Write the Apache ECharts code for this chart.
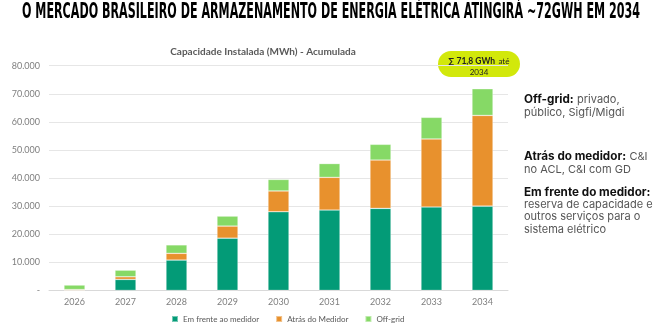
<!DOCTYPE html>
<html><head><meta charset="utf-8">
<script src="https://cdn.jsdelivr.net/npm/echarts@6/dist/echarts.min.js"></script>
<style>html,body{margin:0;padding:0;background:#fff}#c{width:659px;height:325px}</style>
</head><body><div id="c"></div>
<script>
const categories = ['2026','2027','2028','2029','2030','2031','2032','2033','2034'];
const emFrente = [0, 3900, 10800, 18600, 28000, 28600, 29200, 29700, 30000];
const atras = [300, 950, 2400, 4300, 7400, 11650, 17200, 24200, 32300];
const offGrid = [1600, 2350, 3000, 3550, 4100, 4900, 5600, 7700, 9500];
const seriesNames = ['Em frente ao medidor', 'Atrás do Medidor', 'Off-grid'];
const yTicks = {min: 0, max: 80000, interval: 10000};

const titleText = 'O MERCADO BRASILEIRO DE ARMAZENAMENTO DE ENERGIA ELÉTRICA ATINGIRÁ ~72GWH EM 2034';
const titleFont = 'bold 22px "DejaVu Sans Condensed"';
const mctx = document.createElement('canvas').getContext('2d');
mctx.font = titleFont;
const titleW = mctx.measureText(titleText).width;
const titleScale = 618 / titleW;

const chart = echarts.init(document.getElementById('c'), null, {renderer: 'canvas'});
const colors = ['#039b77', '#e8912d', '#86d966'];
const mk = (name, data, i) => ({
  name, type: 'bar', stack: 'total', data, barWidth: 21,
  itemStyle: {color: colors[i], borderColor: 'rgba(255,255,255,0.45)', borderWidth: 0.6}
});
const rt = {b: {font: 'bold 11.7px Inter', fill: '#111'}, n: {font: '11px Inter', fill: '#555'}};
chart.setOption({
  animation: false,
  backgroundColor: '#fff',
  grid: {left: 49, right: 151, top: 65.7, bottom: 34.6},
  xAxis: {
    type: 'category', data: categories,
    axisLine: {lineStyle: {color: '#d9d9d9'}}, axisTick: {show: false},
    axisLabel: {color: '#7f7f7f', fontSize: 9, margin: 7, fontFamily: 'Lato'}
  },
  yAxis: {
    type: 'value', min: yTicks.min, max: yTicks.max, interval: yTicks.interval,
    axisLine: {show: false}, axisTick: {show: false},
    splitLine: {lineStyle: {color: '#e6e6e6'}},
    axisLabel: {color: '#7f7f7f', fontSize: 9, margin: 9, fontFamily: 'Lato',
      formatter: v => v === 0 ? '-' : v.toLocaleString('de-DE')}
  },
  legend: {
    top: 310, left: 166, itemWidth: 6, itemHeight: 6, icon: 'rect', itemGap: 16,
    textStyle: {color: '#595959', fontSize: 8, fontFamily: 'Lato'}
  },
  series: [mk(seriesNames[0], emFrente, 0), mk(seriesNames[1], atras, 1), mk(seriesNames[2], offGrid, 2)],
  graphic: [
    {type: 'text', x: 22, y: 2, scaleX: titleScale, scaleY: 0.95, style: {
      text: titleText, font: titleFont, fill: '#000'}},
    {type: 'text', x: 263, y: 47, style: {
      text: 'Capacidade Instalada (MWh) - Acumulada', align: 'center',
      font: 'bold 10px Lato', fill: '#595959'}},
    {type: 'rect', shape: {x: 438, y: 51, width: 82, height: 26, r: 13}, style: {fill: '#d2e80b'}},
    {type: 'text', x: 479, y: 55, style: {
      align: 'center',
      text: '{b|∑ 71,8 GWh} {n|até}\n{n|2034}',
      rich: {b: {font: 'bold 8.5px Lato', fill: '#222', lineHeight: 11}, n: {font: '8px Lato', fill: '#222', lineHeight: 11}}
    }},
    {type: 'text', x: 524, y: 93, style: {
      text: '{b|Off-grid:} {n|privado,}\n{n|público, Sigfi/Migdi}',
      rich: {b: Object.assign({lineHeight: 13}, rt.b), n: Object.assign({lineHeight: 13}, rt.n)}
    }},
    {type: 'text', x: 524, y: 150, style: {
      text: '{b|Atrás do medidor:} {n|C&I}\n{n|no ACL, C&I com GD}',
      rich: {b: Object.assign({lineHeight: 13}, rt.b), n: Object.assign({lineHeight: 13}, rt.n)}
    }},
    {type: 'text', x: 524, y: 186, style: {
      text: '{b|Em frente do medidor:}\n{n|reserva de capacidade e}\n{n|outros serviços para o}\n{n|sistema elétrico}',
      rich: {b: Object.assign({lineHeight: 12.4}, rt.b), n: Object.assign({lineHeight: 12.4}, rt.n)}
    }}
  ]
});
</script></body></html>
